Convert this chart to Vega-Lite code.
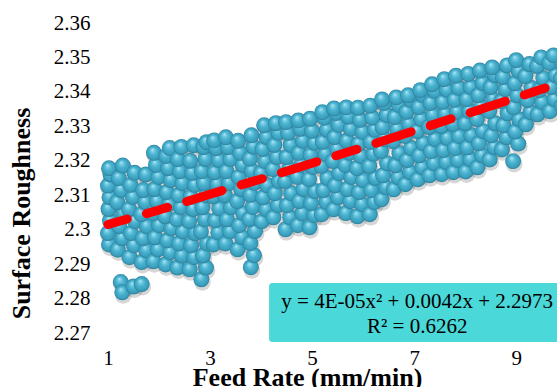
{
  "$schema": "https://vega.github.io/schema/vega-lite/v6.json",
  "autosize": {"type": "none"},
  "width": 449,
  "height": 310,
  "padding": {"left": 108, "top": 23, "right": 0, "bottom": 54},
  "background": "#ffffff",
  "config": {"view": {"stroke": null}, "font": "Liberation Serif", "axis": {"labelOverlap": false}},
  "datasets": {
    "pts": [
      {"x":1.02,"y":2.2957},{"x":1.00,"y":2.2990},{"x":1.04,"y":2.3026},{"x":1.01,"y":2.3060},{"x":1.03,"y":2.3094},{"x":1.00,"y":2.3128},{"x":1.05,"y":2.3160},{"x":1.02,"y":2.3178},
      {"x":1.19,"y":2.2942},{"x":1.28,"y":2.2975},{"x":1.22,"y":2.3010},{"x":1.30,"y":2.3046},{"x":1.18,"y":2.3080},{"x":1.26,"y":2.3115},{"x":1.21,"y":2.3150},{"x":1.29,"y":2.3186},
      {"x":1.25,"y":2.2848},{"x":1.28,"y":2.2818},{"x":1.50,"y":2.2835},{"x":1.66,"y":2.2842},
      {"x":1.42,"y":2.2920},{"x":1.51,"y":2.2955},{"x":1.45,"y":2.2990},{"x":1.53,"y":2.3025},{"x":1.41,"y":2.3060},{"x":1.49,"y":2.3095},{"x":1.44,"y":2.3130},{"x":1.52,"y":2.3165},
      {"x":1.66,"y":2.2906},{"x":1.75,"y":2.2940},{"x":1.68,"y":2.2975},{"x":1.76,"y":2.3010},{"x":1.65,"y":2.3045},{"x":1.73,"y":2.3080},{"x":1.69,"y":2.3115},{"x":1.74,"y":2.3160},
      {"x":1.89,"y":2.2908},{"x":1.98,"y":2.2943},{"x":1.92,"y":2.2978},{"x":2.00,"y":2.3013},{"x":1.88,"y":2.3048},{"x":1.96,"y":2.3083},{"x":1.91,"y":2.3118},{"x":1.99,"y":2.3153},{"x":1.94,"y":2.3188},{"x":1.90,"y":2.3223},
      {"x":2.13,"y":2.2899},{"x":2.22,"y":2.2934},{"x":2.16,"y":2.2969},{"x":2.24,"y":2.3004},{"x":2.12,"y":2.3039},{"x":2.20,"y":2.3074},{"x":2.15,"y":2.3109},{"x":2.23,"y":2.3144},{"x":2.18,"y":2.3179},{"x":2.14,"y":2.3214},{"x":2.21,"y":2.3237},
      {"x":2.36,"y":2.2890},{"x":2.45,"y":2.2925},{"x":2.39,"y":2.2960},{"x":2.47,"y":2.2995},{"x":2.35,"y":2.3030},{"x":2.43,"y":2.3065},{"x":2.38,"y":2.3100},{"x":2.46,"y":2.3135},{"x":2.41,"y":2.3170},{"x":2.37,"y":2.3205},{"x":2.44,"y":2.3240},
      {"x":2.60,"y":2.2885},{"x":2.69,"y":2.2920},{"x":2.63,"y":2.2955},{"x":2.71,"y":2.2990},{"x":2.59,"y":2.3025},{"x":2.67,"y":2.3060},{"x":2.62,"y":2.3095},{"x":2.70,"y":2.3130},{"x":2.65,"y":2.3165},{"x":2.61,"y":2.3200},{"x":2.68,"y":2.3245},
      {"x":2.83,"y":2.2856},{"x":2.92,"y":2.2890},{"x":2.86,"y":2.2925},{"x":2.94,"y":2.2960},{"x":2.82,"y":2.2995},{"x":2.90,"y":2.3030},{"x":2.85,"y":2.3065},{"x":2.93,"y":2.3100},{"x":2.88,"y":2.3135},{"x":2.84,"y":2.3170},{"x":2.91,"y":2.3205},{"x":2.87,"y":2.3240},{"x":2.93,"y":2.3254},
      {"x":3.07,"y":2.2957},{"x":3.16,"y":2.2992},{"x":3.10,"y":2.3027},{"x":3.18,"y":2.3062},{"x":3.06,"y":2.3097},{"x":3.14,"y":2.3132},{"x":3.09,"y":2.3167},{"x":3.17,"y":2.3202},{"x":3.12,"y":2.3237},{"x":3.08,"y":2.3259},
      {"x":3.30,"y":2.2960},{"x":3.39,"y":2.2995},{"x":3.33,"y":2.3030},{"x":3.41,"y":2.3065},{"x":3.29,"y":2.3100},{"x":3.37,"y":2.3135},{"x":3.32,"y":2.3170},{"x":3.40,"y":2.3205},{"x":3.35,"y":2.3240},{"x":3.31,"y":2.3268},
      {"x":3.54,"y":2.2943},{"x":3.63,"y":2.2978},{"x":3.57,"y":2.3013},{"x":3.65,"y":2.3048},{"x":3.53,"y":2.3083},{"x":3.61,"y":2.3118},{"x":3.56,"y":2.3153},{"x":3.64,"y":2.3188},{"x":3.59,"y":2.3223},{"x":3.55,"y":2.3258},
      {"x":3.80,"y":2.2891},{"x":3.86,"y":2.2926},{"x":3.79,"y":2.2961},{"x":3.88,"y":2.2996},{"x":3.77,"y":2.3031},{"x":3.84,"y":2.3066},{"x":3.79,"y":2.3101},{"x":3.87,"y":2.3136},{"x":3.82,"y":2.3171},{"x":3.78,"y":2.3206},{"x":3.85,"y":2.3241},{"x":3.81,"y":2.3274},
      {"x":4.01,"y":2.3024},{"x":4.10,"y":2.3059},{"x":4.04,"y":2.3094},{"x":4.12,"y":2.3129},{"x":4.00,"y":2.3164},{"x":4.08,"y":2.3199},{"x":4.03,"y":2.3234},{"x":4.11,"y":2.3269},{"x":4.06,"y":2.3303},
      {"x":4.24,"y":2.3036},{"x":4.33,"y":2.3071},{"x":4.27,"y":2.3106},{"x":4.35,"y":2.3141},{"x":4.23,"y":2.3176},{"x":4.31,"y":2.3211},{"x":4.26,"y":2.3246},{"x":4.34,"y":2.3281},{"x":4.29,"y":2.3309},
      {"x":4.48,"y":2.3001},{"x":4.57,"y":2.3036},{"x":4.51,"y":2.3071},{"x":4.59,"y":2.3106},{"x":4.47,"y":2.3141},{"x":4.55,"y":2.3176},{"x":4.50,"y":2.3211},{"x":4.58,"y":2.3246},{"x":4.53,"y":2.3281},{"x":4.49,"y":2.3312},
      {"x":4.72,"y":2.3013},{"x":4.81,"y":2.3048},{"x":4.75,"y":2.3083},{"x":4.83,"y":2.3118},{"x":4.71,"y":2.3153},{"x":4.79,"y":2.3188},{"x":4.74,"y":2.3223},{"x":4.82,"y":2.3258},{"x":4.77,"y":2.3293},{"x":4.73,"y":2.3317},
      {"x":4.95,"y":2.3007},{"x":5.04,"y":2.3042},{"x":4.98,"y":2.3077},{"x":5.06,"y":2.3112},{"x":4.94,"y":2.3147},{"x":5.02,"y":2.3182},{"x":4.97,"y":2.3217},{"x":5.05,"y":2.3252},{"x":5.00,"y":2.3287},{"x":4.96,"y":2.3322},
      {"x":5.19,"y":2.3045},{"x":5.28,"y":2.3080},{"x":5.22,"y":2.3115},{"x":5.30,"y":2.3150},{"x":5.18,"y":2.3185},{"x":5.26,"y":2.3220},{"x":5.21,"y":2.3255},{"x":5.29,"y":2.3290},{"x":5.24,"y":2.3325},{"x":5.20,"y":2.3341},
      {"x":5.42,"y":2.3059},{"x":5.51,"y":2.3094},{"x":5.45,"y":2.3129},{"x":5.53,"y":2.3164},{"x":5.41,"y":2.3199},{"x":5.49,"y":2.3234},{"x":5.44,"y":2.3269},{"x":5.52,"y":2.3304},{"x":5.47,"y":2.3339},{"x":5.43,"y":2.3352},
      {"x":5.66,"y":2.3048},{"x":5.75,"y":2.3083},{"x":5.69,"y":2.3118},{"x":5.77,"y":2.3153},{"x":5.65,"y":2.3188},{"x":5.73,"y":2.3223},{"x":5.68,"y":2.3258},{"x":5.76,"y":2.3293},{"x":5.71,"y":2.3328},{"x":5.67,"y":2.3355},
      {"x":5.89,"y":2.3039},{"x":5.98,"y":2.3074},{"x":5.92,"y":2.3109},{"x":6.00,"y":2.3144},{"x":5.88,"y":2.3179},{"x":5.96,"y":2.3214},{"x":5.91,"y":2.3249},{"x":5.99,"y":2.3284},{"x":5.94,"y":2.3319},{"x":5.90,"y":2.3354},
      {"x":6.13,"y":2.3045},{"x":6.22,"y":2.3080},{"x":6.16,"y":2.3115},{"x":6.24,"y":2.3150},{"x":6.12,"y":2.3185},{"x":6.20,"y":2.3220},{"x":6.15,"y":2.3255},{"x":6.23,"y":2.3290},{"x":6.18,"y":2.3325},{"x":6.14,"y":2.3360},
      {"x":6.36,"y":2.3088},{"x":6.45,"y":2.3123},{"x":6.39,"y":2.3158},{"x":6.47,"y":2.3193},{"x":6.35,"y":2.3228},{"x":6.43,"y":2.3263},{"x":6.38,"y":2.3298},{"x":6.46,"y":2.3333},{"x":6.41,"y":2.3368},{"x":6.37,"y":2.3378},
      {"x":6.60,"y":2.3117},{"x":6.69,"y":2.3152},{"x":6.63,"y":2.3187},{"x":6.71,"y":2.3222},{"x":6.59,"y":2.3257},{"x":6.67,"y":2.3292},{"x":6.62,"y":2.3327},{"x":6.70,"y":2.3362},{"x":6.65,"y":2.3384},
      {"x":6.83,"y":2.3132},{"x":6.92,"y":2.3167},{"x":6.86,"y":2.3202},{"x":6.94,"y":2.3237},{"x":6.82,"y":2.3272},{"x":6.90,"y":2.3307},{"x":6.85,"y":2.3342},{"x":6.93,"y":2.3377},{"x":6.88,"y":2.3390},
      {"x":7.07,"y":2.3146},{"x":7.16,"y":2.3181},{"x":7.10,"y":2.3216},{"x":7.18,"y":2.3251},{"x":7.06,"y":2.3286},{"x":7.14,"y":2.3321},{"x":7.09,"y":2.3356},{"x":7.17,"y":2.3391},{"x":7.12,"y":2.3405},
      {"x":7.30,"y":2.3158},{"x":7.39,"y":2.3193},{"x":7.33,"y":2.3228},{"x":7.41,"y":2.3263},{"x":7.29,"y":2.3298},{"x":7.37,"y":2.3333},{"x":7.32,"y":2.3368},{"x":7.40,"y":2.3403},{"x":7.35,"y":2.3422},
      {"x":7.54,"y":2.3161},{"x":7.63,"y":2.3196},{"x":7.57,"y":2.3231},{"x":7.65,"y":2.3266},{"x":7.53,"y":2.3301},{"x":7.61,"y":2.3336},{"x":7.56,"y":2.3371},{"x":7.64,"y":2.3406},{"x":7.59,"y":2.3437},
      {"x":7.77,"y":2.3167},{"x":7.86,"y":2.3202},{"x":7.80,"y":2.3237},{"x":7.88,"y":2.3272},{"x":7.76,"y":2.3307},{"x":7.84,"y":2.3342},{"x":7.79,"y":2.3377},{"x":7.87,"y":2.3412},{"x":7.82,"y":2.3447},
      {"x":8.01,"y":2.3169},{"x":8.10,"y":2.3204},{"x":8.04,"y":2.3239},{"x":8.12,"y":2.3274},{"x":8.00,"y":2.3309},{"x":8.08,"y":2.3344},{"x":8.03,"y":2.3379},{"x":8.11,"y":2.3414},{"x":8.06,"y":2.3452},
      {"x":8.24,"y":2.3181},{"x":8.33,"y":2.3216},{"x":8.27,"y":2.3251},{"x":8.35,"y":2.3286},{"x":8.23,"y":2.3321},{"x":8.31,"y":2.3356},{"x":8.26,"y":2.3391},{"x":8.34,"y":2.3426},{"x":8.29,"y":2.3462},
      {"x":8.48,"y":2.3204},{"x":8.57,"y":2.3239},{"x":8.51,"y":2.3274},{"x":8.59,"y":2.3309},{"x":8.47,"y":2.3344},{"x":8.55,"y":2.3379},{"x":8.50,"y":2.3414},{"x":8.58,"y":2.3449},{"x":8.53,"y":2.3471},
      {"x":8.72,"y":2.3233},{"x":8.81,"y":2.3268},{"x":8.75,"y":2.3303},{"x":8.83,"y":2.3338},{"x":8.71,"y":2.3373},{"x":8.79,"y":2.3408},{"x":8.74,"y":2.3443},{"x":8.82,"y":2.3477},
      {"x":8.94,"y":2.3199},{"x":9.04,"y":2.3250},{"x":8.98,"y":2.3285},{"x":9.06,"y":2.3320},{"x":8.95,"y":2.3355},{"x":9.02,"y":2.3390},{"x":8.97,"y":2.3425},{"x":9.05,"y":2.3460},{"x":9.00,"y":2.3492},
      {"x":9.19,"y":2.3306},{"x":9.28,"y":2.3341},{"x":9.22,"y":2.3376},{"x":9.30,"y":2.3411},{"x":9.18,"y":2.3446},{"x":9.26,"y":2.3481},
      {"x":9.42,"y":2.3335},{"x":9.51,"y":2.3370},{"x":9.45,"y":2.3405},{"x":9.53,"y":2.3440},{"x":9.41,"y":2.3475},{"x":9.49,"y":2.3500},
      {"x":9.66,"y":2.3344},{"x":9.75,"y":2.3379},{"x":9.69,"y":2.3414},{"x":9.77,"y":2.3449},{"x":9.65,"y":2.3484},{"x":9.73,"y":2.3506},
      {"x":9.90,"y":2.3360},{"x":9.92,"y":2.3400},{"x":9.88,"y":2.3440},{"x":9.91,"y":2.3480}
    ],
    "trend": [
      {"x":1,"y":2.3015},{"x":2,"y":2.3057},{"x":3,"y":2.3103},{"x":4,"y":2.3147},{"x":5,"y":2.3193},
      {"x":6,"y":2.3239},{"x":7,"y":2.3287},{"x":8,"y":2.3335},{"x":9,"y":2.3383},{"x":9.75,"y":2.3420}
    ],
    "box": [{"x":4.157,"x2":10.5,"y":2.2845,"y2":2.2674}],
    "eq": [
      {"x":7.06,"y":2.2790,"label":"y = 4E-05x² + 0.0042x + 2.2973"},
      {"x":7.06,"y":2.2717,"label":"R² = 0.6262"}
    ]
  },
  "encoding": {
    "x": {
      "field": "x", "type": "quantitative",
      "scale": {"domain": [1, 9.8], "nice": false, "zero": false},
      "axis": {
        "values": [1, 3, 5, 7, 9],
        "title": "Feed Rate (mm/min)",
        "grid": false, "domain": false, "ticks": false,
        "labelFlush": false, "labelBound": false, "labelOverlap": false,
        "labelFont": "Liberation Serif", "labelFontSize": 21, "labelColor": "#000000", "labelPadding": 14,
        "titleFont": "Liberation Serif", "titleFontSize": 26, "titleFontWeight": "bold", "titleColor": "#000000",
        "titleX": 199, "titleY": 52, "titleAlign": "center", "titleBaseline": "alphabetic", "titleAnchor": null
      }
    },
    "y": {
      "field": "y", "type": "quantitative",
      "scale": {"domain": [2.27, 2.36], "nice": false, "zero": false},
      "axis": {
        "values": [2.27, 2.28, 2.29, 2.3, 2.31, 2.32, 2.33, 2.34, 2.35, 2.36],
        "labelExpr": "format(datum.value, '.2~f')",
        "title": "Surface Roughness",
        "grid": false, "domain": false, "ticks": false,
        "labelFlush": false, "labelBound": false, "labelOverlap": false,
        "labelFont": "Liberation Serif", "labelFontSize": 21, "labelColor": "#000000", "labelPadding": 18,
        "titleFont": "Liberation Serif", "titleFontSize": 26, "titleFontWeight": "bold", "titleColor": "#000000",
        "titleX": -87, "titleY": 190, "titleAlign": "center", "titleBaseline": "middle", "titleAngle": -90, "titleAnchor": null
      }
    }
  },
  "layer": [
    {
      "data": {"name": "pts"},
      "mark": {"type": "circle", "size": 285, "color": "#000000", "opacity": 0.16, "xOffset": 1, "yOffset": 3}
    },
    {
      "data": {"name": "pts"},
      "mark": {
        "type": "point", "shape": "circle", "filled": true, "size": 255, "opacity": 1, "strokeWidth": 0,
        "fill": {
          "gradient": "radial", "x1": 0.4, "y1": 0.3, "r1": 0, "x2": 0.5, "y2": 0.5, "r2": 0.5,
          "stops": [
            {"offset": 0, "color": "#c6eef9"},
            {"offset": 0.18, "color": "#7ccfe6"},
            {"offset": 0.5, "color": "#47b1ce"},
            {"offset": 0.85, "color": "#3a9dbb"},
            {"offset": 1, "color": "#2a7d98"}
          ]
        }
      }
    },
    {
      "data": {"name": "trend"},
      "mark": {"type": "line", "color": "#ff0000", "strokeWidth": 9, "strokeCap": "round", "strokeDash": [37, 20, 22, 20], "strokeDashOffset": 17}
    },
    {
      "data": {"name": "box"},
      "mark": {"type": "rect", "color": "#4ad8d8", "cornerRadius": 3},
      "encoding": {
        "x2": {"field": "x2"},
        "y2": {"field": "y2"}
      }
    },
    {
      "data": {"name": "eq"},
      "mark": {"type": "text", "font": "Liberation Serif", "fontSize": 21, "color": "#000000", "align": "center", "baseline": "middle"},
      "encoding": {
        "text": {"field": "label"}
      }
    }
  ]
}
